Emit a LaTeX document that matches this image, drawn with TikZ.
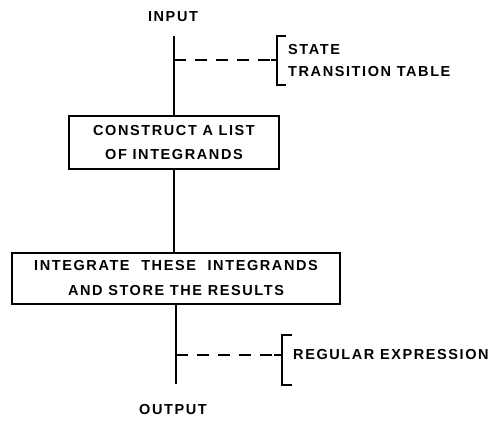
\documentclass[tikz,border=0pt]{standalone}
\usepackage{fontspec}
\setmainfont{Liberation Sans}[LetterSpace=11]
\begin{document}
\begin{tikzpicture}[x=1pt,y=-1pt,
  lbl/.style={font=\fontsize{14.5}{22}\selectfont\bfseries, inner sep=0pt},
  note/.style={font=\fontsize{14.5}{22}\selectfont\bfseries, inner sep=0pt, align=left, anchor=west},
  procbox/.style={draw, line width=1.4pt, inner sep=0pt, align=center},
  link/.style={line width=1.8pt},
  dashlink/.style={line width=1.5pt, dash pattern=on 12pt off 9pt},
  brace/.style={line width=1.6pt}]
\useasboundingbox (0,0) rectangle (490,421);
% terminals
\node[lbl] (input) at (173,17) {INPUT};
\node[lbl] (output) at (173,410) {OUTPUT};
\coordinate (top) at (174,36);
\coordinate (bot) at (176,384);
% boxes
\node[procbox, minimum width=210pt, minimum height=53pt,
      font=\fontsize{14.5}{24}\selectfont\bfseries] (box1) at (174,142.5)
      {CONSTRUCT A LIST\\OF INTEGRANDS};
\node[procbox, minimum width=328pt, minimum height=51pt,
      font=\fontsize{14.5}{25}\selectfont\bfseries] (box2) at (176,278.5)
      {INTEGRATE\hspace{6pt} THESE\hspace{6pt} INTEGRANDS\\AND STORE THE RESULTS};
% main flow
\draw[link] (top) -- (box1.north);
\draw[link] (box1.south) -- (box1.south |- box2.north);
\draw[link] (box2.south -| bot) -- (bot);
% first annotation
\coordinate (j1) at (174,60);
\coordinate (t1) at (271,60);
\coordinate (m1) at (277,60);
\draw[dashlink] (j1) -- (t1);
\draw[brace] (286,36) -- (277,36) -- (277,85) -- (286,85);
\draw[brace] (t1) -- (m1);
\node[note] (n1) at (288,61)
  {STATE\\TRANSITION TABLE};
% second annotation
\coordinate (j2) at (176,355);
\coordinate (t2) at (274,355);
\coordinate (m2) at (282,355);
\draw[dashlink] (j2) -- (t2);
\draw[brace] (292,335) -- (282,335) -- (282,385) -- (292,385);
\draw[brace] (t2) -- (m2);
\node[note] (n2) at (293,355) {REGULAR EXPRESSION};
\end{tikzpicture}
\end{document}
